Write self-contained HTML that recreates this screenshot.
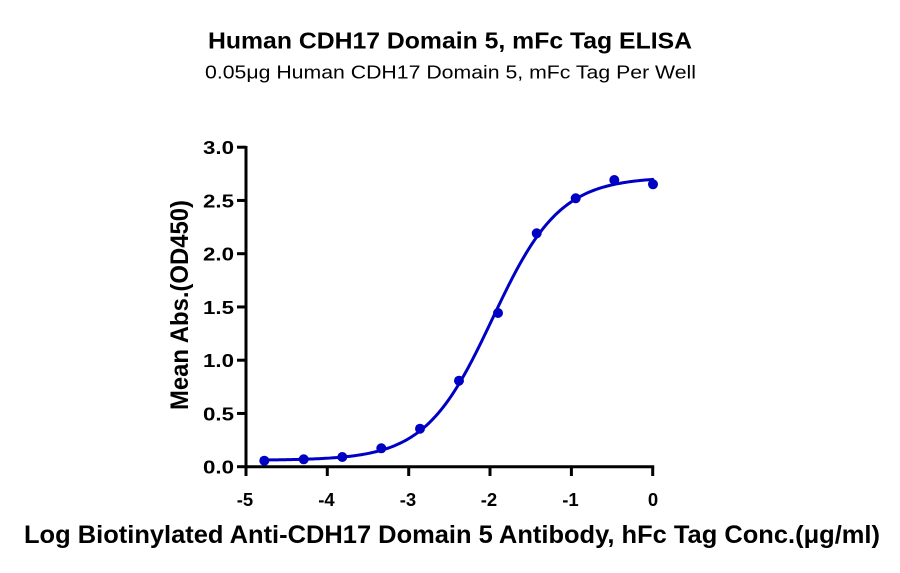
<!DOCTYPE html>
<html>
<head>
<meta charset="utf-8">
<style>
  html, body { margin: 0; padding: 0; background: #ffffff; }
  svg { display: block; }
  text { font-family: "Liberation Sans", "DejaVu Sans", sans-serif; fill: #000; }
</style>
</head>
<body>
<svg id="chart" width="900" height="573" viewBox="0 0 900 573" xmlns="http://www.w3.org/2000/svg">
  <rect width="900" height="573" fill="#ffffff"/>
  <!-- Titles -->
  <text x="450" y="48.5" text-anchor="middle" font-size="23" font-weight="bold" textLength="484" lengthAdjust="spacingAndGlyphs">Human CDH17 Domain 5, mFc Tag ELISA</text>
  <text x="450.5" y="78.5" text-anchor="middle" font-size="18.5" textLength="491" lengthAdjust="spacingAndGlyphs">0.05μg Human CDH17 Domain 5, mFc Tag Per Well</text>

  <!-- Axes -->
  <g stroke="#000" stroke-width="3" fill="none" stroke-linecap="butt">
    <line x1="246" y1="146" x2="246" y2="468.2"/>
    <line x1="244.5" y1="466.7" x2="654.2" y2="466.7"/>
    <!-- y ticks -->
    <line x1="237" y1="147.2" x2="246" y2="147.2"/>
    <line x1="237" y1="200.45" x2="246" y2="200.45"/>
    <line x1="237" y1="253.7" x2="246" y2="253.7"/>
    <line x1="237" y1="306.95" x2="246" y2="306.95"/>
    <line x1="237" y1="360.2" x2="246" y2="360.2"/>
    <line x1="237" y1="413.45" x2="246" y2="413.45"/>
    <line x1="237" y1="466.7" x2="246" y2="466.7"/>
    <!-- x ticks -->
    <line x1="246" y1="466.7" x2="246" y2="476"/>
    <line x1="327.3" y1="466.7" x2="327.3" y2="476"/>
    <line x1="408.7" y1="466.7" x2="408.7" y2="476"/>
    <line x1="490" y1="466.7" x2="490" y2="476"/>
    <line x1="571.4" y1="466.7" x2="571.4" y2="476"/>
    <line x1="652.7" y1="466.7" x2="652.7" y2="476"/>
  </g>

  <!-- Y tick labels -->
  <g font-size="18.5" font-weight="bold" text-anchor="end">
    <text x="234" y="154" textLength="31" lengthAdjust="spacingAndGlyphs">3.0</text>
    <text x="234" y="207.3" textLength="31" lengthAdjust="spacingAndGlyphs">2.5</text>
    <text x="234" y="260.5" textLength="31" lengthAdjust="spacingAndGlyphs">2.0</text>
    <text x="234" y="313.8" textLength="31" lengthAdjust="spacingAndGlyphs">1.5</text>
    <text x="234" y="367" textLength="31" lengthAdjust="spacingAndGlyphs">1.0</text>
    <text x="234" y="420.3" textLength="31" lengthAdjust="spacingAndGlyphs">0.5</text>
    <text x="234" y="473.5" textLength="31" lengthAdjust="spacingAndGlyphs">0.0</text>
  </g>

  <!-- X tick labels -->
  <g font-size="18.5" font-weight="bold" text-anchor="middle">
    <text x="245" y="506">-5</text>
    <text x="326.5" y="506">-4</text>
    <text x="408" y="506">-3</text>
    <text x="489" y="506">-2</text>
    <text x="570.5" y="506">-1</text>
    <text x="653" y="506">0</text>
  </g>

  <!-- Axis labels -->
  <text x="452" y="543" text-anchor="middle" font-size="25" font-weight="bold" textLength="856" lengthAdjust="spacingAndGlyphs">Log Biotinylated Anti-CDH17 Domain 5 Antibody, hFc Tag Conc.(μg/ml)</text>
  <text transform="translate(188,305) rotate(-90)" x="0" y="0" text-anchor="middle" font-size="25" font-weight="bold" textLength="210" lengthAdjust="spacingAndGlyphs">Mean Abs.(OD450)</text>

  <!-- Curve -->
  <path id="curve" d="" fill="none" stroke="#0000c4" stroke-width="3" stroke-linejoin="round" stroke-linecap="round"/>

  <!-- Data points -->
  <g fill="#0000c4">
    <circle cx="264.3" cy="460.7" r="5"/>
    <circle cx="303.7" cy="459.3" r="5"/>
    <circle cx="342.3" cy="457" r="5"/>
    <circle cx="381.3" cy="448.3" r="5"/>
    <circle cx="420" cy="428.7" r="5"/>
    <circle cx="459" cy="380.7" r="5"/>
    <circle cx="498" cy="313" r="5"/>
    <circle cx="536.7" cy="233.3" r="5"/>
    <circle cx="575.7" cy="198.3" r="5"/>
    <circle cx="614.3" cy="180" r="5"/>
    <circle cx="653" cy="184.3" r="5"/>
  </g>
</svg>
<script>
(function(){
  var bottom = 0.06, top = 2.72, ec = -1.97, h = 1.05;
  function X(l){ return 246 + (l + 5) * 81.34; }
  function Y(v){ return 466.7 - v * 106.5; }
  var d = "";
  var n = 200;
  var x0 = -4.78, x1 = 0.0;
  for (var i = 0; i <= n; i++) {
    var l = x0 + (x1 - x0) * i / n;
    var v = bottom + (top - bottom) / (1 + Math.pow(10, (ec - l) * h));
    d += (i === 0 ? "M" : "L") + X(l).toFixed(2) + "," + Y(v).toFixed(2);
  }
  document.getElementById("curve").setAttribute("d", d);
})();
</script>
</body>
</html>
